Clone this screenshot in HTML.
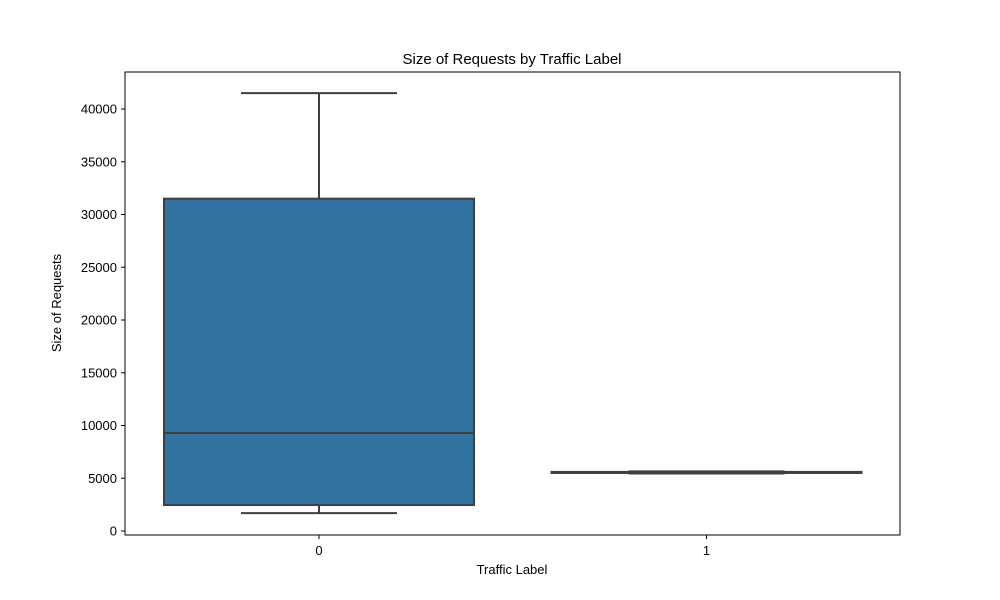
<!DOCTYPE html>
<html><head><meta charset="utf-8"><style>body{margin:0;background:#fff}svg{display:block;font-family:"Liberation Sans",sans-serif}</style></head>
<body>
<svg id="chart" width="1000" height="600">
<text x="512" y="64" text-anchor="middle" font-size="15">Size of Requests by Traffic Label</text>
<g id="plot"></g>
<rect x="125" y="72" width="775" height="463" fill="none" stroke="#000" stroke-width="1"/>
<text x="512" y="574" text-anchor="middle" font-size="13">Traffic Label</text>
<text transform="translate(61,303) rotate(-90)" text-anchor="middle" font-size="13">Size of Requests</text>
</svg>
<script>
const categories = ["0","1"];
const whiskerLow = [1700, 5450];
const q1 = [2460, 5500];
const median = [9290, 5550];
const q3 = [31500, 5600];
const whiskerHigh = [41500, 5650];
const yTicks = [0,5000,10000,15000,20000,25000,30000,35000,40000];
const NS="http://www.w3.org/2000/svg";
const g=document.getElementById('plot');
const y=v=>531-v*0.01055;
const x=i=>319+i*387.5;
function mk(t,a){const e=document.createElementNS(NS,t);for(const k in a)e.setAttribute(k,a[k]);g.appendChild(e);return e;}
yTicks.forEach(v=>{
 const l=mk('line',{x1:121,x2:125,y1:y(v),y2:y(v),stroke:'#000'});
 
 
 const t=mk('text',{x:117,y:y(v)+4.5,'text-anchor':'end','font-size':13});
 t.textContent=v;
 
 
});
categories.forEach((c,i)=>{
 const cx=x(i),c1='#3f3f3f';
 const l=mk('line',{x1:cx,x2:cx,y1:535,y2:539,stroke:'#000'});
 
 
 const t=mk('text',{x:cx,y:555,'text-anchor':'middle','font-size':13});
 t.textContent=c;
 
 
 const w1=mk('line',{x1:cx,x2:cx,y1:y(whiskerHigh[i]),y2:y(q3[i]),stroke:c1,'stroke-width':2});
 
 
 const w2=mk('line',{x1:cx,x2:cx,y1:y(q1[i]),y2:y(whiskerLow[i]),stroke:c1,'stroke-width':2});
 
 
 const b=mk('rect',{x:cx-155,y:y(q3[i]),width:310,height:Math.max(y(q1[i])-y(q3[i]),0.5),fill:'#3274a1',stroke:c1,'stroke-width':2});
 
 
 const m=mk('line',{x1:cx-155,x2:cx+155,y1:y(median[i]),y2:y(median[i]),stroke:c1,'stroke-width':2});
 
 
 [whiskerHigh[i],whiskerLow[i]].forEach(v=>{
  const cap=mk('line',{x1:cx-78,x2:cx+78,y1:y(v),y2:y(v),stroke:c1,'stroke-width':2});
  
  
 });
});
</script>
</body></html>
